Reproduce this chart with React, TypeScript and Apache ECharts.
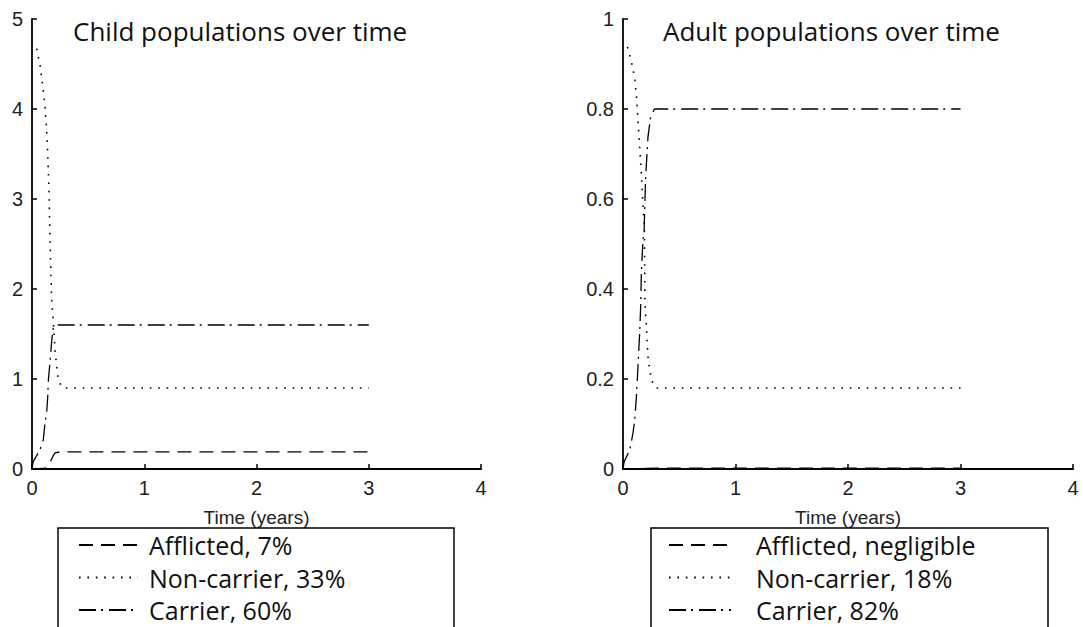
import React, { useEffect, useRef } from "react";
import * as echarts from "echarts";

// ---- Data ----
const childYMax = 5;
const adultYMax = 1;

const childTitle = "Child populations over time";
const adultTitle = "Adult populations over time";
const xAxisName = "Time (years)";

const childNames = ["Afflicted, 7%", "Non-carrier, 33%", "Carrier, 60%"];
const adultNames = ["Afflicted, negligible", "Non-carrier, 18%", "Carrier, 82%"];

const childAfflictedT = [0, 0.03, 0.116, 0.16, 0.19, 0.205, 0.25, 3];
const childAfflictedV = [0, 0, 0.01, 0.07, 0.15, 0.18, 0.19, 0.19];

const childNonCarrierT = [0.042, 0.056, 0.071, 0.1, 0.116, 0.13, 0.14, 0.152, 0.158, 0.166, 0.174, 0.19, 0.205, 0.22, 0.235, 0.265, 0.3, 3];
const childNonCarrierV = [4.67, 4.58, 4.49, 4.21, 4.03, 3.77, 3.51, 3.07, 2.69, 2.3, 1.9, 1.64, 1.32, 1.14, 0.99, 0.91, 0.9, 0.9];

const childCarrierT = [0, 0.01, 0.07, 0.1, 0.116, 0.13, 0.14, 0.146, 0.16, 0.176, 0.19, 0.22, 3];
const childCarrierV = [0, 0.08, 0.21, 0.32, 0.51, 0.62, 0.8, 0.99, 1.18, 1.43, 1.58, 1.6, 1.6];

const adultAfflictedT = [0, 0.3, 3];
const adultAfflictedV = [0, 0.002, 0.002];

const adultNonCarrierT = [0.04, 0.075, 0.104, 0.12, 0.133, 0.148, 0.163, 0.178, 0.19, 0.195, 0.208, 0.222, 0.237, 0.267, 0.3, 3];
const adultNonCarrierV = [0.938, 0.905, 0.869, 0.827, 0.776, 0.716, 0.657, 0.583, 0.54, 0.37, 0.316, 0.25, 0.22, 0.187, 0.18, 0.18];

const adultCarrierT = [0, 0.01, 0.06, 0.089, 0.104, 0.119, 0.133, 0.148, 0.157, 0.163, 0.178, 0.187, 0.2, 0.222, 0.246, 0.28, 3];
const adultCarrierV = [0, 0.016, 0.042, 0.08, 0.109, 0.16, 0.227, 0.302, 0.36, 0.435, 0.51, 0.524, 0.642, 0.738, 0.783, 0.8, 0.8];

const zip = (t: number[], v: number[]) => t.map((x, i) => [x, v[i]]);

const LINE = "#000";
const dashed = [14, 8];
const dotted = [1.6, 6.8];
const dashDot = [17, 5, 2, 6];

export default function App() {
  const ref = useRef<HTMLDivElement>(null);
  useEffect(() => {
    document.body.style.margin = "0";
    const chart = echarts.init(ref.current!, undefined, { renderer: "svg" });

    const mkSeries = (name: string, idx: number, data: number[][], dash: number[], w: number) => ({
      type: "line",
      name,
      xAxisIndex: idx,
      yAxisIndex: idx,
      data,
      symbol: "none",
      smooth: false,
      lineStyle: { color: LINE, width: w, type: dash },
      itemStyle: { color: LINE },
    });

    const xAxisBase = (gridIndex: number) => ({
      type: "value",
      gridIndex,
      min: 0,
      max: 4,
      interval: 1,
      name: xAxisName,
      nameLocation: "middle",
      nameGap: 39,
      nameTextStyle: { fontFamily: "Liberation Sans", fontSize: 19, color: "#222" },
      axisLine: { show: true, onZero: false, lineStyle: { color: "#000", width: 1.8 } },
      axisTick: { show: true, inside: true, length: 5, lineStyle: { color: "#000", width: 1.5 } },
      axisLabel: { fontFamily: "Liberation Sans", fontSize: 20, color: "#222", margin: 9 },
      splitLine: { show: false },
    });

    const yAxisBase = (gridIndex: number, max: number, interval: number) => ({
      type: "value",
      gridIndex,
      min: 0,
      max,
      interval,
      axisLine: { show: true, onZero: false, lineStyle: { color: "#000", width: 1.8 } },
      axisTick: { show: true, inside: true, length: 5, lineStyle: { color: "#000", width: 1.5 } },
      axisLabel: { fontFamily: "Liberation Sans", fontSize: 20, color: "#222", margin: 9 },
      splitLine: { show: false },
    });

    const legendBase = (left: number, names: string[], textPad: number, iw: number) => ({
      show: true,
      orient: "vertical",
      left,
      top: 530,
      height: 140,
      padding: 0,
      itemWidth: iw,
      itemHeight: 14,
      itemGap: 2.5,
      selectedMode: false,
      data: names,
      itemStyle: { color: "rgba(0,0,0,0)", borderWidth: 0, opacity: 0 },
      textStyle: {
        fontFamily: "Open Sans",
        fontSize: 25,
        fontWeight: 500,
        color: "#111",
        lineHeight: 30,
        padding: [0, 0, 0, textPad],
      },
    });

    chart.setOption({
      animation: false,
      backgroundColor: "#fff",
      grid: [
        { left: 32, top: 19, width: 449, height: 450 },
        { left: 623, top: 19, width: 450, height: 450 },
      ],
      xAxis: [xAxisBase(0), xAxisBase(1)],
      yAxis: [yAxisBase(0, childYMax, 1), yAxisBase(1, adultYMax, 0.2)],
      title: [
        {
          text: childTitle,
          left: 73,
          top: 18,
          padding: 0,
          textStyle: { fontFamily: "Open Sans", fontSize: 26, fontWeight: 500, color: "#111" },
        },
        {
          text: adultTitle,
          left: 663,
          top: 18,
          padding: 0,
          textStyle: { fontFamily: "Open Sans", fontSize: 26, fontWeight: 500, color: "#111" },
        },
      ],
      legend: [legendBase(78, childNames, 6, 59), legendBase(668, adultNames, 20, 62)],
      graphic: [
        {
          type: "rect",
          shape: { x: 58, y: 528, width: 396, height: 140 },
          style: { fill: "none", stroke: "#000", lineWidth: 1.5 },
          z: 10,
        },
        {
          type: "rect",
          shape: { x: 651, y: 528, width: 397, height: 140 },
          style: { fill: "none", stroke: "#000", lineWidth: 1.5 },
          z: 10,
        },
      ],
      series: [
        mkSeries(childNames[0], 0, zip(childAfflictedT, childAfflictedV), dashed, 1.3),
        mkSeries(childNames[1], 0, zip(childNonCarrierT, childNonCarrierV), dotted, 1.6),
        mkSeries(childNames[2], 0, zip(childCarrierT, childCarrierV), dashDot, 1.3),
        mkSeries(adultNames[0], 1, zip(adultAfflictedT, adultAfflictedV), dashed, 1.3),
        mkSeries(adultNames[1], 1, zip(adultNonCarrierT, adultNonCarrierV), dotted, 1.6),
        mkSeries(adultNames[2], 1, zip(adultCarrierT, adultCarrierV), dashDot, 1.3),
      ],
    });
    return () => chart.dispose();
  }, []);
  return <div ref={ref} style={{ width: 1083, height: 627 }} />;
}
